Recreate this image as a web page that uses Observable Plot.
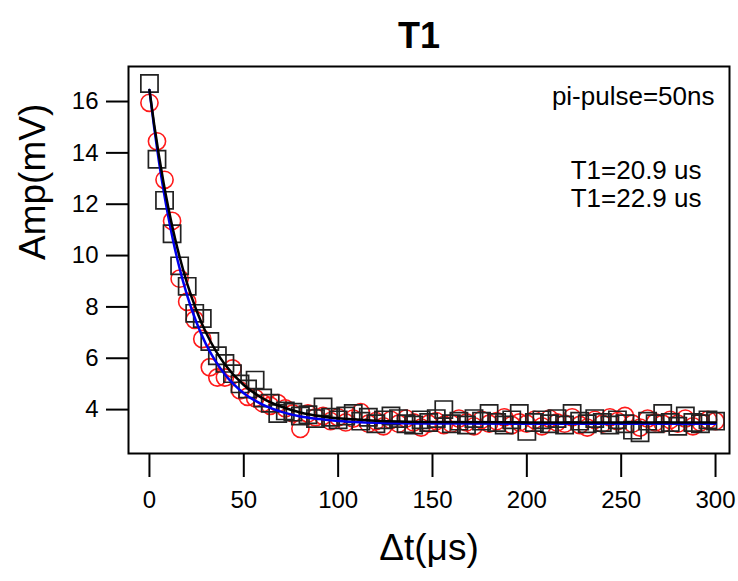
<!DOCTYPE html>
<html><head><meta charset="utf-8">
<script src="https://cdn.jsdelivr.net/npm/d3@7"></script>
<script src="https://cdn.jsdelivr.net/npm/@observablehq/plot@0.6"></script>
<style>body{margin:0;background:#fff;} svg{display:block}</style>
</head><body><div id="chart"></div>
<script>
const tValues = [0,4,8,12,16,20,24,28,32,36,40,44,48,52,56,60,64,68,72,76,80,84,88,92,96,100,
  104,108,112,116,120,124,128,132,136,140,144,148,152,156,160,164,168,172,176,180,184,188,192,196,200,
  204,208,212,216,220,224,228,232,236,240,244,248,252,256,260,264,268,272,276,280,284,288,292,296,300];
const squareAmp = [16.7,13.75,12.15,10.85,9.6,8.8,7.75,7.55,6.65,6.1,5.8,5.4,5.0,4.8,5.15,4.45,4.25,3.85,3.95,3.9,3.75,3.8,3.65,4.1,3.7,3.6,
  3.75,3.85,3.55,3.7,3.45,3.6,3.75,3.65,3.45,3.4,3.6,3.5,3.65,4.0,3.45,3.55,3.4,3.65,3.55,3.85,3.5,3.4,3.6,3.85,3.15,
  3.5,3.6,3.45,3.65,3.4,3.85,3.55,3.45,3.65,3.5,3.4,3.6,3.45,3.2,3.1,3.55,3.45,3.85,3.5,3.35,3.75,3.5,3.45,3.6,3.55];
const circleAmp = [15.95,14.45,12.95,11.35,9.1,8.2,7.5,6.75,5.65,5.25,5.25,5.6,4.75,4.5,4.45,4.25,4.15,4.25,4.05,3.85,3.25,3.85,3.7,3.75,3.55,3.7,
  3.5,3.65,3.9,3.45,3.55,3.35,3.6,3.45,3.65,3.5,3.3,3.45,3.55,3.4,3.45,3.65,3.5,3.35,3.6,3.45,3.55,3.7,3.4,3.5,3.45,
  3.6,3.35,3.65,3.5,3.45,3.7,3.4,3.3,3.6,3.45,3.7,3.55,3.75,3.45,3.3,3.65,3.5,3.45,3.6,3.45,3.65,3.35,3.5,3.6,3.55];
const fitT     = [0,2.5,5,7.5,10,12.5,15,20,25,30,35,40,50,60,70,80,90,100,120,150,200,250,300];
const fitBlack = [16.45,15.11,13.91,12.83,11.87,11.0,10.23,8.91,7.85,6.99,6.31,5.76,4.96,4.44,4.11,3.89,3.75,3.66,3.57,3.52,3.5,3.5,3.5];
const fitBlue  = [16.45,14.98,13.68,12.53,11.51,10.6,9.79,8.44,7.38,6.54,5.89,5.37,4.64,4.19,3.91,3.73,3.63,3.56,3.49,3.46,3.45,3.45,3.45];
const xTicks = [0,50,100,150,200,250,300];
const yTicks = [4,6,8,10,12,14,16];
const title = "T1";
const xLabel = "\u0394t(\u03bcs)";
const yLabel = "Amp(mV)";
const notes = ["pi-pulse=50ns", "T1=20.9 us", "T1=22.9 us"];

const squares = tValues.map((t, i) => ({t, v: squareAmp[i]}));
const circles = tValues.map((t, i) => ({t, v: circleAmp[i]}));
const blackFit = fitT.map((t, i) => ({t, v: fitBlack[i]}));
const blueFit = fitT.map((t, i) => ({t, v: fitBlue[i]}));

const chart = Plot.plot({
  width: 738, height: 581,
  marginLeft: 128, marginRight: 9, marginTop: 66, marginBottom: 128,
  style: {fontFamily: "'Liberation Sans', Arial, sans-serif", fontSize: "24px", color: "black", background: "white"},
  x: {domain: [-11.1, 307.4], label: null},
  y: {domain: [2.29, 17.364], label: null},
  marks: [
    Plot.dot(circles, {x: "t", y: "v", r: 8.6, stroke: "#ff1a1a", strokeWidth: 1.6, fill: "none"}),
    Plot.dot(squares, {x: "t", y: "v", symbol: "square", r: 9.7, stroke: "#222", strokeWidth: 1.7, fill: "none"}),
    Plot.line(blueFit, {x: "t", y: "v", stroke: "#0000ee", strokeWidth: 2.5, curve: "monotone-x"}),
    Plot.line(blackFit, {x: "t", y: "v", stroke: "black", strokeWidth: 2.5, curve: "monotone-x"}),
    Plot.frame({stroke: "black", strokeWidth: 2}),
    Plot.axisX(xTicks, {tickSize: 24, tickPadding: 13, fontSize: 24, strokeWidth: 2, label: null}),
    Plot.axisY(yTicks, {tickSize: 22, tickPadding: 8, fontSize: 24, strokeWidth: 2, label: null}),
    Plot.text([yLabel], {text: d => d, frameAnchor: "left", dx: -95, rotate: -90, fontSize: 37, fill: "black"}),
    Plot.text([xLabel], {text: d => d, frameAnchor: "bottom", dy: 106, fontSize: 37, fill: "black"}),
    Plot.text([title], {text: d => d, frameAnchor: "top", dy: -44, dx: -10, fontSize: 36, fontWeight: "bold", fill: "black"}),
    Plot.text([notes[0]], {text: d => d, frameAnchor: "top-right", textAnchor: "end", dx: -15, dy: 20, fontSize: 26, fill: "black"}),
    Plot.text([notes[1]], {text: d => d, frameAnchor: "top-right", textAnchor: "end", dx: -28, dy: 94, fontSize: 26, fill: "black"}),
    Plot.text([notes[2]], {text: d => d, frameAnchor: "top-right", textAnchor: "end", dx: -28, dy: 122, fontSize: 26, fill: "black"})
  ]
});
document.getElementById("chart").append(chart);
</script>
</body></html>
